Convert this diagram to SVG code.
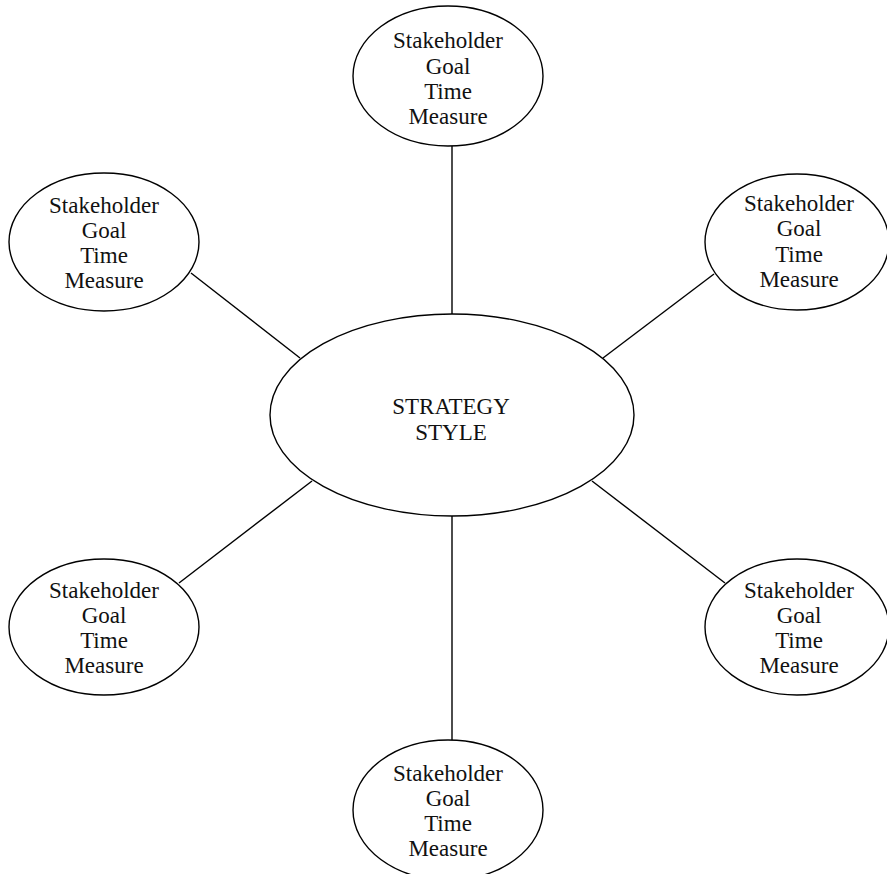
<svg xmlns="http://www.w3.org/2000/svg" width="887" height="874" viewBox="0 0 887 874">
<style>
.n ellipse{fill:#fff;stroke:#000;stroke-width:1.4}
.c line{stroke:#000;stroke-width:1.4}
text{font-family:"Liberation Serif","Times New Roman",serif;font-size:23px;fill:#111;text-anchor:middle}
</style>
<rect width="887" height="874" fill="#fff"/>
<g class="c" id="connectors">
<line x1="452" y1="146" x2="452" y2="314"/>
<line x1="191" y1="273" x2="300" y2="358"/>
<line x1="714" y1="274" x2="603" y2="358"/>
<line x1="312" y1="481" x2="179" y2="583"/>
<line x1="592" y1="481" x2="725" y2="583"/>
<line x1="452" y1="516" x2="452" y2="741"/>
</g>
<g class="n" id="center">
<ellipse cx="452" cy="415" rx="182" ry="101"/>
<text x="451" y="414">STRATEGY</text>
<text x="451" y="440">STYLE</text>
</g>
<g class="n" id="top">
<ellipse cx="448" cy="76" rx="95" ry="70"/>
<text x="448" y="48">Stakeholder</text><text x="448" y="74">Goal</text><text x="448" y="99">Time</text><text x="448" y="124">Measure</text>
</g>
<g class="n" id="upper-left">
<ellipse cx="104" cy="242" rx="95" ry="69"/>
<text x="104" y="213">Stakeholder</text><text x="104" y="238">Goal</text><text x="104" y="263">Time</text><text x="104" y="288">Measure</text>
</g>
<g class="n" id="upper-right">
<ellipse cx="797" cy="242" rx="92" ry="68"/>
<text x="799" y="211">Stakeholder</text><text x="799" y="236">Goal</text><text x="799" y="262">Time</text><text x="799" y="287">Measure</text>
</g>
<g class="n" id="lower-left">
<ellipse cx="104" cy="627" rx="95" ry="68"/>
<text x="104" y="598">Stakeholder</text><text x="104" y="623">Goal</text><text x="104" y="648">Time</text><text x="104" y="673">Measure</text>
</g>
<g class="n" id="lower-right">
<ellipse cx="797" cy="627" rx="92" ry="68"/>
<text x="799" y="598">Stakeholder</text><text x="799" y="623">Goal</text><text x="799" y="648">Time</text><text x="799" y="673">Measure</text>
</g>
<g class="n" id="bottom">
<ellipse cx="448" cy="810" rx="95" ry="70"/>
<text x="448" y="781">Stakeholder</text><text x="448" y="806">Goal</text><text x="448" y="831">Time</text><text x="448" y="856">Measure</text>
</g>
</svg>
